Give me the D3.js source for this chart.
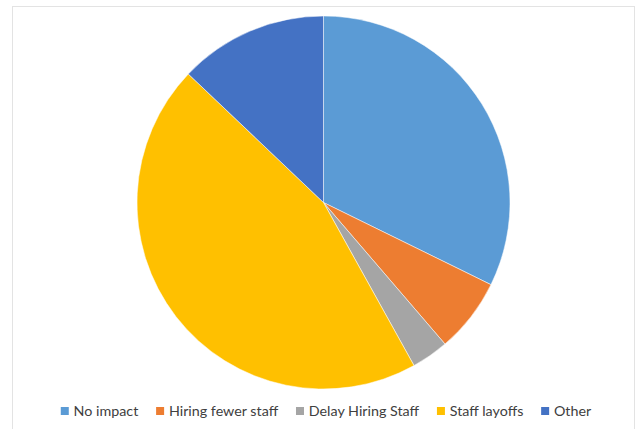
<!DOCTYPE html>
<meta charset="utf-8">
<style>
body { margin: 0; background: #fff; }
.legend text { font-family: Lato, "Open Sans", sans-serif; font-size: 14.3px; fill: #404040; }
</style>
<body>
<script src="https://d3js.org/d3.v7.min.js"></script>
<script>
// data
var categories = ["No impact", "Hiring fewer staff", "Delay Hiring Staff", "Staff layoffs", "Other"];
var values = [10, 2, 1, 14, 4];
var colors = ["#5B9BD5", "#ED7D31", "#A5A5A5", "#FFC000", "#4472C4"];

var width = 638, height = 429;
var cx = 323.5, cy = 202.5, radius = 186.5;

var svg = d3.select("body").append("svg")
    .attr("width", width)
    .attr("height", height);

// chart frame
svg.append("rect")
    .attr("x", 12.5).attr("y", 6.5)
    .attr("width", 622).attr("height", 440)
    .attr("fill", "#fff")
    .attr("stroke", "#e3e3e3")
    .attr("stroke-width", 1);

var color = d3.scaleOrdinal().domain(categories).range(colors);

var pie = d3.pie().sort(null).value(function(d) { return d.value; });
var arc = d3.arc().innerRadius(0).outerRadius(radius);

var data = categories.map(function(c, i) { return {name: c, value: values[i]}; });

svg.append("g")
    .attr("transform", "translate(" + cx + "," + cy + ")")
  .selectAll("path")
    .data(pie(data))
  .enter().append("path")
    .attr("d", arc)
    .attr("fill", function(d) { return color(d.data.name); })
    .attr("stroke", "#fff")
    .attr("stroke-width", 0.5);

// legend
var legend = svg.append("g").attr("class", "legend");
var items = legend.selectAll("g")
    .data(categories)
  .enter().append("g");

items.append("rect")
    .attr("width", 8).attr("height", 8)
    .attr("y", 407)
    .attr("fill", function(d) { return color(d); });

items.append("text")
    .attr("x", 12.8)
    .attr("y", 416)
    .text(function(d) { return d; });

var gap = 17.8, xpos = 0, offsets = [];
items.each(function() {
  var w = d3.select(this).select("text").node().getComputedTextLength();
  offsets.push(xpos);
  xpos += 12.8 + w + gap;
});
var total = xpos - gap;
var start = 326 - total / 2;
items.attr("transform", function(d, i) { return "translate(" + (start + offsets[i]) + ",0)"; });
</script>
</body>
